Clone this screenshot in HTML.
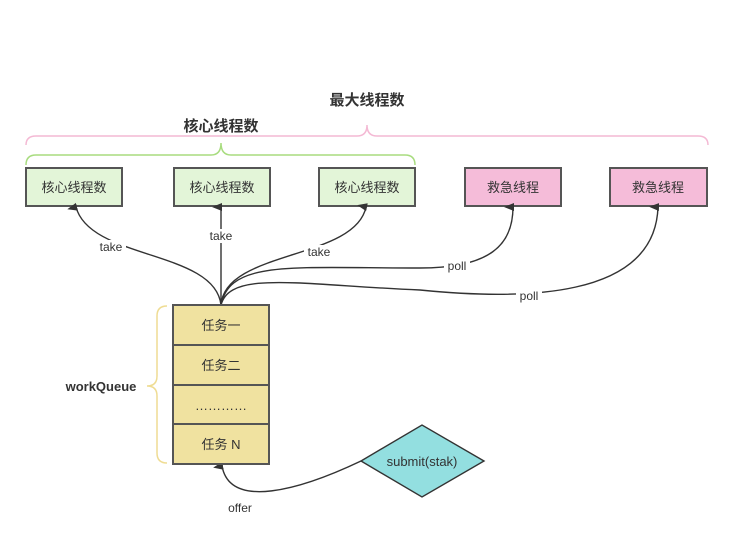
<!DOCTYPE html>
<html><head><meta charset="utf-8"><style>
body{margin:0;background:#fff;}
svg text{font-family:"Liberation Sans","Noto Sans CJK SC",sans-serif;fill:#333;}
</style></head><body>
<svg width="733" height="541" viewBox="0 0 733 541" xmlns="http://www.w3.org/2000/svg">
<defs><marker id="a" markerWidth="10" markerHeight="10" refX="5" refY="9" orient="auto-start-reverse" markerUnits="userSpaceOnUse" viewBox="0 0 10 10"><path d="M1,10 L5,0 L9,10 Z" fill="#333"/></marker></defs>
<text x="367" y="105" font-size="15" font-weight="bold" text-anchor="middle">最大线程数</text>
<text x="221" y="131" font-size="15" font-weight="bold" text-anchor="middle">核心线程数</text>
<path d="M26,145 Q26,136 36,136 L357,136 Q367,136 367,125 Q367,136 377,136 L698,136 Q708,136 708,145" fill="none" stroke="#f4b9d4" stroke-width="1.5"/>
<path d="M26,165 Q26,155 36,155 L211,155 Q221,155 221,143 Q221,155 231,155 L405,155 Q415,155 415,165" fill="none" stroke="#a8dc7f" stroke-width="1.5"/>
<g stroke="#555" stroke-width="2" font-size="13">
<rect x="26" y="168" width="96" height="38" fill="#e3f5d8"/>
<rect x="174" y="168" width="96" height="38" fill="#e3f5d8"/>
<rect x="319" y="168" width="96" height="38" fill="#e3f5d8"/>
<rect x="465" y="168" width="96" height="38" fill="#f5bcd9"/>
<rect x="610" y="168" width="97" height="38" fill="#f5bcd9"/>
</g>
<g font-size="13" text-anchor="middle">
<text x="74" y="192">核心线程数</text><text x="222" y="192">核心线程数</text><text x="367" y="192">核心线程数</text>
<text x="513" y="192">救急线程</text><text x="658" y="192">救急线程</text>
</g>
<g fill="none" stroke="#333" stroke-width="1.4" marker-end="url(#a)">
<path d="M221,305 C215,250 90,260 76,207"/>
<path d="M221,305 L221,207"/>
<path d="M221,305 C225,250 355,260 366,207"/>
<path d="M221,305 C230,260 290,268 420,268 C490,268 513,245 513,207"/>
<path d="M221,305 C230,270 300,285 420,290 C520,300 655,300 658,207"/>
<path d="M361,461 C300,490 230,510 222,466"/>
</g>
<g font-size="12" text-anchor="middle">
<rect x="96" y="240" width="30" height="14" fill="#fff"/><text x="111" y="251">take</text>
<rect x="206" y="229" width="30" height="14" fill="#fff"/><text x="221" y="240">take</text>
<rect x="304" y="245" width="30" height="14" fill="#fff"/><text x="319" y="256">take</text>
<rect x="444" y="259" width="26" height="14" fill="#fff"/><text x="457" y="270">poll</text>
<rect x="516" y="289" width="26" height="14" fill="#fff"/><text x="529" y="300">poll</text>
<text x="240" y="512">offer</text>
</g>
<g stroke="#555" stroke-width="2" fill="#f0e2a0">
<rect x="173" y="305" width="96" height="40"/><rect x="173" y="345" width="96" height="40"/>
<rect x="173" y="385" width="96" height="39"/><rect x="173" y="424" width="96" height="40"/>
</g>
<g font-size="13" text-anchor="middle">
<text x="221" y="330">任务一</text><text x="221" y="370">任务二</text><text x="221" y="410">…………</text><text x="221" y="449">任务 N</text>
</g>
<path d="M167,306 Q157,306 157,316 L157,376 Q157,386 147,386 Q157,386 157,396 L157,453 Q157,463 167,463" fill="none" stroke="#efdc93" stroke-width="1.5"/>
<text x="101" y="391" font-size="13" font-weight="bold" text-anchor="middle">workQueue</text>
<path d="M361,461 L422,425 L484,461 L422,497 Z" fill="#93dfe0" stroke="#333" stroke-width="1.4"/>
<text x="422" y="466" font-size="13" text-anchor="middle">submit(stak)</text>
</svg>
</body></html>
